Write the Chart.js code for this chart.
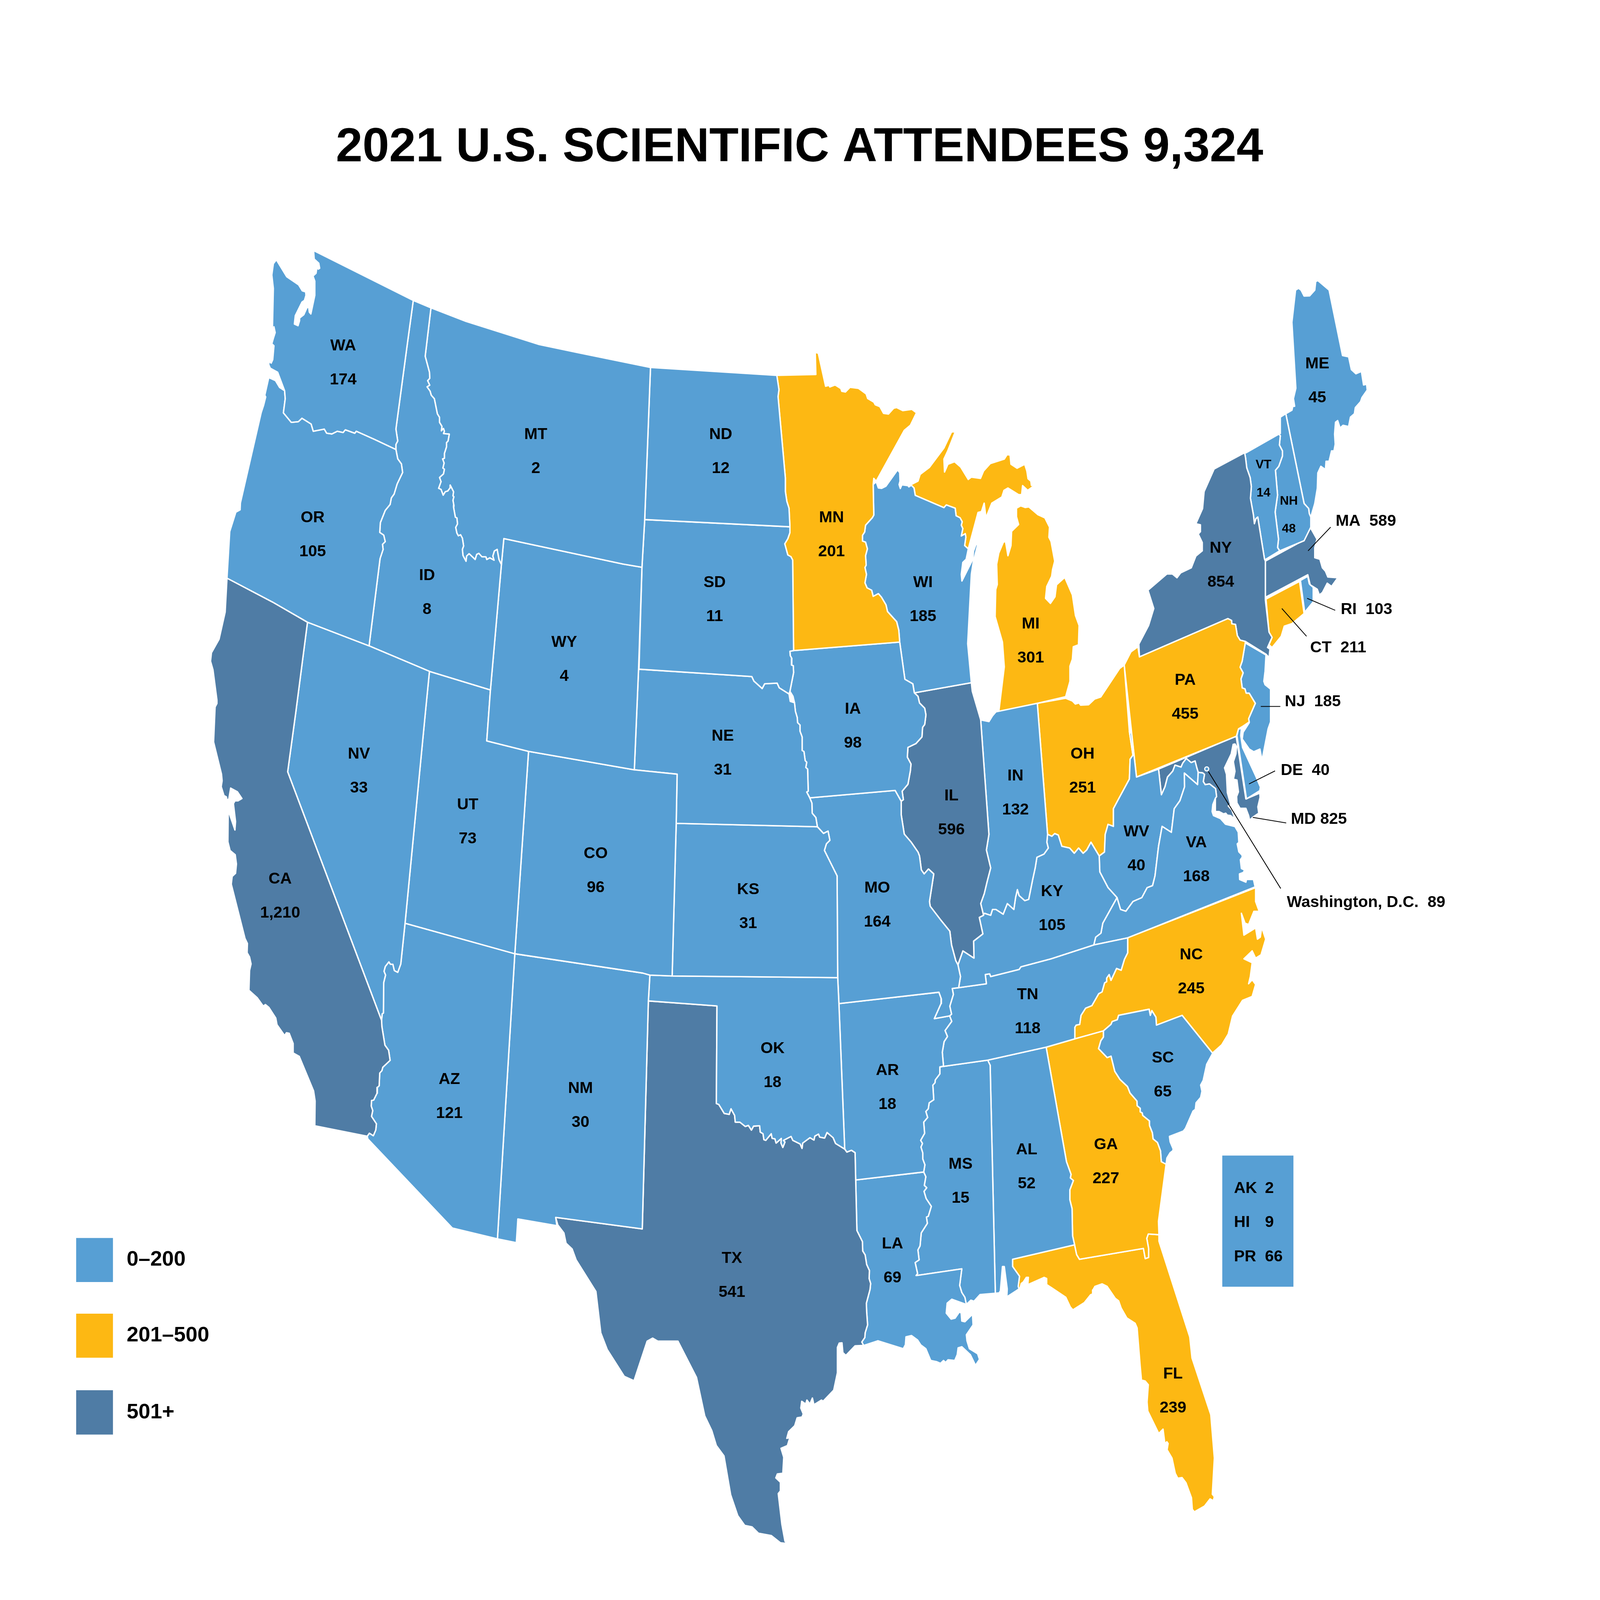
<!DOCTYPE html>
<html>
<head>
<meta charset="utf-8">
<title>2021 U.S. Scientific Attendees</title>
<script src="https://cdn.jsdelivr.net/npm/chart.js@4/dist/chart.umd.js"></script>
<style>
  html, body { margin: 0; padding: 0; background: #fff; overflow: hidden; }
  #wrap { width: 100vw; height: 100vh; position: relative; }
</style>
</head>
<body>
<div id="wrap"><canvas id="map"></canvas></div>
<script>
// attendee counts
const stateCodes = ['WA','OR','CA','NV','ID','MT','WY','UT','CO','AZ','NM','ND','SD','NE','KS','OK','TX','MN','IA','MO','AR','LA','WI','IL','IN','MI','KY','TN','MS','AL','GA','FL','SC','NC','VA','WV','OH','PA','NY','VT','NH','ME'];
const stateValues = ['174','105','1,210','33','8','2','4','73','96','121','30','12','11','31','31','18','541','201','98','164','18','69','185','596','132','301','105','118','15','52','227','239','65','245','168','40','251','455','854','14','48','45'];
const calloutLabels = ['MA  589','RI  103','CT  211','NJ  185','DE  40','MD 825','Washington, D.C.  89'];
const calloutValues = { MA: 589, RI: 103, CT: 211, NJ: 185, DE: 40, MD: 825, DC: 89 };
const insetCodes = ['AK','HI','PR'];
const insetValues = ['2','9','66'];
const legendLabels = ['0–200','201–500','501+'];
const titleText = '2021 U.S. SCIENTIFIC ATTENDEES 9,324';

// label anchors in map units
const labelX = [334.5,304.5,272.5,350,417,524,552,457,583,439,568,706,700,708,733,757,717,815,836,860,870,875,905,933,996,1011,1032,1008,942,1007,1085,1151,1141,1169,1174,1115,1062,1163,1198,1240,1265,1293];
const labelY = [189,284,484,415,316,238,353,443,470,595,600,238,320,405,490,578,694,284,390,489,590,686,320,438,427,343,491,548,642,634,631,758,583,526,464,458,415,374,301,255,275,199];
const calloutX = [1311,1316,1286,1261,1257,1267,1263];
const calloutY = [286,335,356,386,424,451,497];
const leaderLines = [
  [1306.1,290, 1283.9,303.1],
  [1310.6,336, 1283,329.4],
  [1282.4,350.4, 1258.1,335],
  [1256.6,389.2, 1237.4,389.2],
  [1251.4,424.9, 1225.8,432.1],
  [1262.4,453.7, 1229.5,450.6],
  [1257,490, 1185.8,425.2]
];

// shared borders, flat x,y lists
const waOr = [270,204.2, 276.9,214.5, 277.5,218.9, 275.7,226.7, 283.5,232, 290.4,231.6, 294,229.7, 303,232.9, 305.1,236.9, 315.9,235.7, 318.3,238, 323.4,238.4, 328.8,236.9, 334.5,237.6, 336.6,236.1, 345.9,238, 347.4,236.9, 365.4,241.4, 386.4,247];
const waId = [403.5,164.5, 397.8,187.9, 386.4,235.7, 388.2,242.3, 386.4,244.2, 386.4,247];
const orId = [386.4,247, 388.2,252.2, 391.8,255, 393,259.7, 387.6,266.1, 384.6,271.7, 381.9,273.8, 380.7,277.4, 375.9,280.7, 371.1,287.5, 370.5,292.9, 374.4,294.4, 375.9,298, 373.2,299.5, 373.8,302.3, 370.8,307.4, 360,355.7];
const idMt = [420.9,168.6, 415.2,195.4, 419.4,204.2, 419.7,207.6, 417.6,208.9, 419.7,211.4, 417,212.3, 420,214.7, 421.2,217, 424.2,218.9, 427.2,227.3, 429.3,229.2, 429.3,232, 431.7,234.2, 431.1,236.7, 433.2,235.4, 434.1,236.9, 433.2,238.2, 438.9,238.5, 437.7,242.3, 436.2,243.2, 436.2,245.5, 434.1,249.2, 434.1,251.9, 432.3,252.2, 433.8,254.5, 432.6,257.3, 434.1,257.9, 433.2,260.5, 429.3,262.5, 430.8,264.8, 428.4,268.5, 430.8,269.1, 432.9,272.3, 435,270.4, 437.4,270, 439.8,268.2, 439.8,266.7, 443.1,270.4, 442.5,272.7, 443.4,273.2, 442.5,275.1, 443.4,277.9, 443.1,278.9, 444.9,284.5, 446.4,284.9, 447,288.2, 445.2,290.1, 446.4,293.3, 447.9,294.8, 450,294.2, 451.8,296.1, 453,300.4, 451.8,302.3, 452.4,305.7, 455.4,308.9, 456,306, 458.4,304.7, 464.4,307.9, 465.9,305.1, 468,304.5, 471,306.4, 474.9,306.4, 475.8,307.9, 478.8,307, 483,308.3, 481.8,306, 483.3,303.2, 486,302.3, 487.8,307.9, 490.2,310.7];
const nvAz = [395.4,509.2, 391.2,531.7, 388.2,536.4, 384.9,535.4, 383.4,531.9, 381,531.9, 379.5,530.6, 375.9,533.2, 374.7,535.8, 376.2,537.9, 374.4,542, 374.1,558.9, 372.9,559.3, 372.3,563];
const caAz = [372.3,563, 372.6,566.4, 375.6,576.7, 379.2,579.5, 380.7,585.1, 373.5,588.9, 372.6,590.8, 370.5,592.1, 369.9,599.2, 368.1,600.1, 367.8,603.3, 364.5,607.1, 362.4,607.3, 362.1,610.4, 363.6,612.9, 362.4,616.1, 367.2,620.2, 366.6,623.6, 364.2,626.8, 360.3,625.4, 358.2,627.1];
const ndMn = [763.3,213.9, 762.4,217.7, 769.6,262.7, 769.6,270.2, 771.1,275.8, 773.2,279.5, 774.1,289.8];
const sdMn = [774.1,293, 772,296.4, 769,299.2, 772,305.4, 775,306.3, 776.8,308.2];
const sdIa = [777.7,358.3, 774.1,358.7, 774.4,361.1, 775.9,362.6, 775.6,366.3, 777.4,366.7, 777.7,370.5, 774.1,380.8];
const sdNe = [625.6,368.6, 736.6,372.7, 738.7,375.2, 746.8,379.3, 749.2,376.7, 761.5,376.3, 763.6,378.9, 773.2,382.3];
const iaNe = [778.6,387.2, 779.5,392, 781.3,395.4, 781.6,398.2, 784,399.5, 784,402.9, 786.1,406.1, 786.1,413.6, 787.9,414.2, 789.1,419.2, 790.6,420.1, 789.7,423, 791.5,423.9, 792.1,436.1, 790.6,436.6, 793.6,439.8];
const neMo = [795.7,442.7, 796,448.3, 799.6,450.7, 801.1,455.8];
const mnWi = [856,266.4, 856.6,283.3, 855.1,284.8, 848.5,288.9, 847.6,292.7, 845.5,294.5, 845.5,297.7, 848.5,298.3, 850.3,302, 848.5,305.8, 849.1,311, 847.9,312.3, 849.4,316.1, 847.9,320.8, 850,323.6, 854.5,324.9, 856,328.3, 861.1,326.8, 864.1,328.7, 868.6,333, 870.1,336.7, 879.1,342.3, 881.2,347, 882.1,353.6];
const wiIa = [882.1,353.6, 887.2,374.2, 895,376.7, 896.5,381.7];
const iaIl = [896.5,381.7, 900.1,383.6, 901.6,387.3, 906.7,390.2, 907.9,393.9, 906.7,399.2, 904.6,400.8, 904,406.1, 898,409.8, 890.2,411.9, 889.6,417.3, 893.2,421.1, 892.6,424.8, 890.2,432.3, 884.5,436.1, 885.7,440.8, 883.6,441.7];
const ilMo = [883.6,441.7, 883.6,449.2, 886.6,459.9, 893.2,464.2, 900.1,469.8, 901.6,472, 903.4,479.7, 906.2,481.9, 910.4,479.2, 915.6,481.9, 911.4,497.2, 912.1,499.8, 921.9,507, 931.4,513.6, 933.1,521.2, 937.3,530, 939.4,532.2];
const ilKy = [939.4,532.2, 944.3,524.5, 955.2,528.5, 954.8,519.1, 963.9,515.1, 960.4,506];
const ilIn = [960.4,506, 964.6,504.8, 961.8,498.3, 965.3,492.8, 968.1,486.2, 971.6,478.6, 967.4,468.7, 969.9,460, 961.8,396.7];
const inKy = [1027.6,460, 1026.9,464.4, 1028.3,467.6, 1024.1,470.9, 1017.1,472.7, 1015.4,478.6, 1012.9,485.1, 1009,496, 1005.2,496.7, 999.6,493.9, 997.9,490.6, 996.1,495, 994.4,501.6, 988,498.3, 983.9,504.2, 976.8,501.6, 973.4,501.6, 971.6,504.8, 965.6,503.7, 960.4,506];
const kyTn = [940.1,544.9, 967.4,542.7, 966.3,537.6, 970.6,537.2, 971.6,538.7, 999.6,534.8, 1001.4,533.3, 1031.1,528.9, 1073.1,521.2];
const kyVa = [1073.1,521.2, 1074.9,516.9, 1080.1,514.7, 1081.9,509.2, 1095.9,495];
const kyWv = [1095.9,495, 1087.1,489.5, 1079,480.8, 1078.4,472];
const ohKy = [1078.4,472, 1070.3,464.4, 1066.1,468.7, 1062.6,470.5, 1058.1,467.6, 1053.9,470.5, 1049.3,467.6, 1041.6,466.6, 1038.1,460.4, 1034.6,459.6, 1031.8,461.1, 1027.6,460];
const ohWv = [1078.4,472, 1083.6,469.8, 1084.3,460, 1087.1,454.5, 1092.4,455.6, 1092.4,445.8, 1097.6,440.3, 1108.1,429.4, 1108.8,418.4, 1111.6,416.2, 1108.1,403.1];
const paNy = [1205,340.6, 1208.6,341.6, 1208.9,343.5, 1212.5,343.8, 1214.3,350, 1217,352.5, 1222.1,353.2];
const paNj = [1222.1,354.1, 1219.1,364.1, 1217,367.5, 1220,370.6, 1217.9,374, 1219.1,379, 1221.8,379.5, 1223,381.9, 1226,381.9, 1232,387.5, 1225.4,396];
const paDe = [1225.4,396, 1226,397.8, 1220,400.1, 1215.5,401.6, 1213.4,405.7];
const nyVt = [1241,307.5, 1234.4,284.4, 1232.6,285.3, 1231.1,288.1, 1230.2,283.4, 1227.2,274, 1228.1,267.5, 1226.9,262.5, 1223.6,257.2, 1222.4,251.6, 1221.5,248.8];
const vtNh = [1255.1,238.5, 1256.6,239.4, 1255.7,244.5, 1258.7,247.8, 1258.7,250.6, 1255.1,256.3, 1251.8,258.5, 1253.9,272.2, 1251.5,281.6, 1254.8,296.6, 1253.9,301.3, 1256,303.1];
const neME = [1262,227.2, 1280,276.9, 1284.5,279.7, 1285.1,282.5, 1286.6,284.4];
const mdWv = [1136.8,423.9, 1139.6,438.1, 1143.1,433.7, 1145.6,428.3, 1150.8,425, 1153,421.7, 1158.9,422.8, 1160.6,420.6, 1164.1,418, 1168.9,420.3, 1172.7,419.4, 1174.5,423.3, 1175.8,425.7];
const vaWv = [1095.9,495, 1099.4,501.6, 1104.6,502.6, 1111.6,497.2, 1120.4,495, 1125.6,489.5, 1130.9,488.4, 1133.3,483, 1136.8,466.6, 1140.3,455.6, 1149.4,458.9, 1152.2,445.8, 1157.8,441.4, 1162.4,433.7, 1162.2,426.1, 1175.2,432.5, 1175.8,425.7];
const redRiver = [701.7,609, 704.1,609.5, 709.5,614.5, 714.3,615, 716.1,611.9, 719.7,615.6, 720.3,619.3, 724.8,619.3, 730.2,621.7, 733.2,621.1, 736.2,623.7, 738.3,621.5, 744.3,621.3, 744.9,624.8, 747.6,625.7, 748.5,629, 750.3,629.4, 755.7,625.7, 756.6,628.3, 759.3,628.5, 760.5,630.9, 765.6,628.3, 765.3,630.9, 767.1,633.3, 769.2,630.3, 767.7,629.4, 775.2,627.2, 777,629.4, 784.2,631.4, 786,633.8, 786.6,630.9, 790.2,629.4, 793.8,627.9, 797.7,629.2, 798.6,627, 802.2,625.9, 803.4,627.6, 808.2,628.1, 810.6,625, 816.6,627.9, 819,631.1, 828,634.2];
const txLa = [838.8,651.3, 840,679.3, 845.4,685.4, 845.7,690.6, 848.1,692.8, 849.6,698.1, 852.3,701.4, 852,705.9, 853.5,708.6, 852.9,711.9, 849.3,719.5, 849.6,724.3, 850.5,731.5, 848.1,735.9, 847.8,738.5, 844.8,741, 846.6,742.9];
const moBoot = [920.7,547.4, 923.1,551.1, 922.8,553.7, 916.2,562, 931.2,560.5];
const tnRiver = [933.8,545.3, 934.9,548.6, 931.4,555.1, 933.1,559.5, 931.2,560.5];
const arTn = [931.2,560.5, 933.3,563.5, 926.7,568.6, 929.1,571.9, 925.8,574.7, 924,580.6, 925.2,588.3, 921.6,588.7];
const arMs = [921.6,588.7, 921.6,592.6, 917.1,595.9, 916.8,597.5, 914.7,598.8, 915.6,606.9, 911.1,608.6, 910.2,611.9, 907.8,613.4, 909.6,616.7, 905.7,619.3, 906.6,625.5, 902.7,629.4, 904.5,631.1, 903,633.1, 904.8,636.4, 904.8,639.7, 906.9,642.9, 905.7,646.9];
const laMs = [905.7,646.9, 907.8,649.5, 906.3,654.3, 908.7,655.6, 906,657.6, 908.1,661.6, 913.2,665.9, 910.2,671.4, 908.4,671.8, 909.3,675.3, 903.3,680.6, 902.1,687.8, 900,690, 901.2,695.5, 897.3,697, 899.7,703.1, 898.2,704.2, 943.2,700.5, 941.1,709.7, 943.2,713.6, 946.2,716.2, 947.7,720.2];
const alGa = [1026.2,577.8, 1046.2,641.2, 1050.7,648.2, 1050,650.2, 1053,651.6, 1049.5,656.8, 1049.5,662.2, 1051.7,667.2, 1052.2,682.2, 1054.2,687.2];
const gaSc = [1082.5,568.8, 1082.5,572.2, 1080,574.2, 1077.7,578.6, 1086.2,583.6, 1090,582.8, 1093.7,591.2, 1098.7,595.6, 1106.2,599.6, 1108.7,603.2, 1115.5,607.6, 1115.7,610.2, 1118.7,611.6, 1118.7,613.6, 1120.7,614.2, 1121.2,615.6, 1127.7,618.6, 1127.9,621.2, 1130.7,625.2, 1131.4,628.6, 1135.7,630.6, 1138.7,635.2, 1139.5,641.2, 1144.2,642.6];
const gaFl = [1137.2,681.6, 1126.7,681.2, 1125.2,683.6, 1127,689.2, 1127,694.2, 1123.7,694.8, 1121.9,689.2, 1059,695.2, 1056.2,692.6, 1054.2,687.2];
const scNc = [1082.5,568.8, 1090,565.2, 1091.2,563.6, 1096.2,562.6, 1097.5,560.2, 1127.5,556.8, 1128.7,560.2, 1130.2,557.6, 1134.2,561.2, 1134.7,565.6, 1160,560.2, 1190,581.2];
const ncTn = [1054.4,573.2, 1054.4,566.8, 1055.7,565.6, 1059.2,565.2, 1060.5,560.2, 1065,556.2, 1071.2,554.8, 1077.9,548.2, 1081.2,547.2, 1083.7,542.2, 1085.5,541.6, 1085.7,539.6, 1088.2,537.6, 1090,540.8, 1095.5,534.2, 1100,535.2, 1103.2,529.2, 1106.4,525.6, 1106.4,517.3];
const wiMi = [893.5,266.8, 896.2,268.3, 897.4,272.4, 925.6,279.2, 928,277.7, 936.7,279.5, 937.6,283.7, 941.5,284.8, 943.6,287, 942.7,288.9, 944.2,290.8, 942.7,294.9, 946.6,293.6, 947.2,295.5, 946,300.2, 949.6,302];

// coasts and outer edges
const waCoast = [305.4,136.9, 306,141.6, 310.5,143.9, 311.4,146.7, 310,147.2, 308.7,146.1, 307.8,149.5, 304.8,151, 306.6,153.8, 306.6,161.7, 302.7,172, 301.2,171, 300.6,168.2, 298.8,168.6, 295.8,172.4, 291.3,174.4, 291.6,175.7, 290.1,178.5, 286.5,177.6, 287.4,172.9, 294,165.4, 296.4,164.5, 297.9,161.7, 297.6,159.8, 294.3,159.2, 290.7,155.9, 279,151.4, 273.9,146.7, 268.8,142, 265.8,144.2, 264.3,150.4, 265.8,157.9, 264.9,180.4, 266.4,179.1, 267.6,182.3, 265.8,185.5, 264.3,188.5, 266.4,189.6, 265.2,197.3, 263.7,199.2, 261.6,198.2, 261.3,200.1, 262.8,202];
const orCoast = [261.3,207.2, 257.4,217, 258.3,217.9, 256.2,222.6, 253.8,226.7, 233.4,276.6, 233.1,280.4, 228.9,281.7, 222.9,292.4, 220.2,318.2];
const caCoast = [220.2,318.2, 218.4,337, 212.4,352, 204.9,359.5, 204,364.2, 206.4,368.9, 210.3,385.7, 210.3,387.6, 208.5,389.5, 207,408.9, 214.8,426.7, 215.4,430.4, 214.5,433.6, 217.2,438.5, 219.6,439.3, 220.2,441.1, 222,440.4, 223.8,434.4, 230.4,436.4, 234.9,440.2, 231,441.5, 228,441.5, 226.5,443, 228.6,452.9, 228,457.6, 222.9,449.2, 221.4,446.8, 221.1,464.2, 223.2,468.9, 228.3,471.3, 229.5,476.4, 228.6,481.6, 225.3,483.3, 224.4,487.6, 237.9,517.6, 240.3,520.4, 240,525.5, 242.4,527.9, 243.9,531.7, 242.4,535.4, 241.8,546.3, 249.9,550.4, 255.9,555.1, 258,554.2, 261.3,555.7, 268.2,561.7, 269.4,565.4, 276.9,571.4, 278.7,569.8, 281.4,570.1, 285.3,575.8, 285.3,581, 291.3,582.9, 305.4,602, 306.9,607.6, 306.6,621.3, 358.2,627.1];
const txCoast = [838.2,743.1, 829.2,748.4, 826.2,746.9, 825.3,741.4, 822.6,741.6, 820.8,744, 820.8,758, 817.2,767.6, 806.7,773.8, 805.2,773.1, 797.7,775.7, 796.2,772, 793.8,775.3, 790.8,773.1, 789.6,775.3, 785.7,773.8, 784.8,777.5, 787.2,780.8, 786,782.5, 781.2,782.9, 778.8,787.3, 772.8,790.6, 771,794.3, 774,793.9, 771.6,798.3, 765.3,799.8, 768,804.8, 767.1,813.6, 761.7,814, 760.2,816.2, 764.7,818.6, 764.7,823.4, 762.6,824.9, 766.2,842, 769.2,851.2, 771,852.5, 764.7,852.1, 755.7,848.1, 743.1,846.8, 736.8,843.3, 729.6,842.5, 722.7,837, 715.8,825.6, 709.2,804, 701.7,798.3, 697.2,790, 690.3,781.9, 682.2,760.6, 663.9,740.5, 644.1,740.5, 639,738.8, 633.6,740.5, 620.7,762.4, 611.1,760, 594.3,745.1, 588,735.9, 583.2,713, 563.7,695.5, 559.8,689.5, 553.8,686.3, 551.7,680.6, 545.7,676.2, 543.6,672];
const laCoast = [933.3,717.3, 928.8,719.5, 927.9,725, 932.7,728.3, 936.6,727.8, 940.8,724.3, 942.6,725, 943.2,729.4, 946.2,729.8, 953.7,725.6, 954.3,731.5, 947.7,737, 948.3,740.3, 950.7,744.7, 958.8,747.5, 960.6,750.6, 956.7,753.9, 951.6,748, 943.2,743.6, 939.6,744.2, 938.7,748, 936.3,751.2, 929.7,750.8, 927.3,752.3, 925.2,751.2, 922.2,752.8, 918.6,751.9, 912.6,751.2, 907.8,744.7, 902.7,742.5, 899.7,739.9, 893.7,737.4, 888.3,738.1, 887.7,742.5, 885.6,744.7, 860.7,740.3, 846.6,742.9];
const flCoast = [1137.2,685.2, 1167.5,738.2, 1169.7,749.8, 1188.2,781.2, 1191.7,805.2, 1189.7,825.2, 1191.7,826.6, 1190.7,828.8, 1187.5,827.8, 1182,831.8, 1172,835, 1170,833.6, 1169.2,827.2, 1163.7,818.8, 1159.9,816, 1155.7,816.4, 1153.2,813.6, 1150,805.2, 1145.2,800.6, 1146.2,797.2, 1145,796.2, 1143,797.2, 1141.2,789.2, 1137,791.6, 1126.2,779.2, 1125.5,774.2, 1126.7,764.6, 1123.7,762.6, 1121.2,762.2, 1120.7,766.6, 1118.7,754.2, 1115.7,733.2, 1113.7,730.6, 1105.5,727.6, 1100,722.2, 1097.5,718.2, 1094.2,716.8, 1086.2,710.2, 1081.2,708.8, 1074.2,710.2, 1072.2,712.2, 1071.9,714.4, 1070,714.8, 1063.7,719.2, 1052.5,723.2, 1050,721.6, 1045.5,716.2, 1031.2,710.8, 1026.7,709.2, 1026.7,705.8, 1024.2,705.2, 1008.2,709.2, 1008.7,705.2, 1006.7,705.2, 1003.7,707.8, 1001.7,708.6, 1000.5,711.2, 999.5,711.6];
const scCoast = [1184.2,587.2, 1180.7,596.2, 1178.2,598.8, 1179.5,602.2, 1178.2,605.6, 1173.7,608.6, 1173,612.2, 1170.7,613.2, 1163.2,622.8, 1161.2,624.2, 1147.5,627.2, 1148.2,630.2, 1151.2,634.2, 1150.7,635.2, 1148.2,636.2, 1145,639.2, 1144.2,642.6];
const ncCoast = [1232.3,497.2, 1235.8,502.6, 1230.6,502.6, 1225.4,509.9, 1221.9,509.2, 1218.3,503.7, 1220.8,515.8, 1232.3,511.8, 1234.1,518, 1236.9,516.9, 1238.3,511.4, 1242.2,518, 1237.6,526.7, 1232.3,528.5, 1228.9,524.5, 1220.8,528.9, 1228.9,531.1, 1227.1,538.7, 1225.4,542.7, 1228.9,540.5, 1232.3,543.1, 1228.9,549.7, 1219.4,551.9, 1209.6,560.6, 1205.4,570.5, 1199.1,576.4, 1190.4,580.8];
const vaCoast = [1190.8,449.6, 1197.7,451.3, 1202.7,454.4, 1212,455.7, 1215.2,458.8, 1215.8,464.5, 1214.2,465.3, 1215.8,469.7, 1218.9,471.5, 1219.2,472.6, 1217.3,474.1, 1218.3,478.9, 1221.4,479.8, 1220.2,481.1, 1216.4,481.9, 1216.6,485, 1222.7,486.5, 1223.3,485, 1230.2,485, 1231.8,489.1];
const mdPotomac = [1175.8,425.7, 1180.2,426, 1182,426.8, 1180.8,430.8, 1182.7,432.5, 1187,432.1, 1190.8,433.8, 1192.9,434.7, 1193.9,439.1, 1192.7,440];
const mdBay = [1213.3,406.3, 1222.7,440.4, 1236.4,437.2, 1236.7,439.5, 1234.5,444.8, 1235.4,448.3, 1229.5,450.5, 1226.4,452.2, 1225.4,449.6, 1222.7,445.6, 1217,445.6, 1213.9,442.6, 1213.6,439.1, 1215.4,436.5, 1213.9,429.9, 1210.4,429.5, 1212,425.1, 1210.4,419.8, 1212.9,415.5, 1213.5,411.5, 1212,410, 1210.2,410.2, 1208.3,415.5, 1201.7,423.2, 1203.6,426.8, 1204.5,436.9, 1207.7,443.5, 1205.4,444.3, 1208.9,446.5, 1211.8,451.5, 1207.7,449.6, 1204.5,449.4, 1202.9,448.3, 1200.8,448.7, 1196.4,447.4, 1192.7,447.4];
const nyNorth = [1191.5,257.8, 1181.6,270.3, 1180.1,279.7, 1173.5,288.1, 1178,288.7, 1178,292.5, 1175.9,293.8, 1179.8,298.5, 1179.8,303.1, 1173.5,306, 1169,312.5, 1158.5,315.3, 1154.9,318, 1150.4,315.9, 1145,315.9, 1126.4,324.9, 1132.1,335, 1127,344.4, 1117.4,354.7];
const meCoast = [1268,225.3, 1268.9,223.1, 1270.7,223.1, 1269.5,218.8, 1271.9,213.1, 1268,176.6, 1271.6,158.8, 1274.6,157.8, 1277,158.8, 1280,162.1, 1285.4,162, 1290.5,158.8, 1291.4,154.1, 1293.5,153.5, 1304.6,158.8, 1317.8,195, 1323.8,195.7, 1326.5,202.8, 1331,205.1, 1336.4,203.8, 1338.5,211.3, 1341.5,210.9, 1342.1,214.1, 1337,218.2, 1335.5,220.6, 1330.4,223.8, 1329.5,227.2, 1325.6,229.1, 1323.8,234.3, 1318.4,233.6, 1315.4,235.1, 1313,231, 1310.9,231.9, 1310,238.5, 1310.6,244.1, 1309.4,247.8, 1307,247.8, 1304.6,253.5, 1301.6,253.5, 1301,258.1, 1296.5,256.3, 1293.5,260, 1293,268.5, 1290.5,276.9, 1286.6,284.4];
const maCape = [1292.6,296.6, 1290.5,301.3, 1290.5,306.9, 1295.6,307.8, 1298,312.5, 1301,314.4, 1303.4,317.6, 1312.4,318, 1315.4,314.4, 1313.6,309.7, 1316,314.4, 1313,318.1, 1307,322.8, 1302.8,321, 1298,326.2, 1295,327.5, 1292.9,324.3, 1286,321.9, 1283.6,316.3];
const miLower = [1001.2,278.2, 1005.5,279.1, 1009.1,278.8, 1018.1,283.1, 1025,284.9, 1029.5,290, 1028.9,295.6, 1031,297.9, 1034.6,308.8, 1032.5,313.5, 1031.6,317.2, 1026.8,322.8, 1025.6,329.4, 1030.4,332.2, 1034.9,328.5, 1036.4,321.9, 1044.5,317.8, 1052,327.5, 1055,338.8, 1058.6,344.4, 1058,355.1, 1052.9,356.2, 1052,363.1, 1049.6,366.9, 1049.6,375.3, 1045.4,383.8, 1017.5,387.5, 979.6,392.2, 985,367.3, 983.2,353.6, 976,339.5, 976.6,324.5, 978.1,321.7, 977.5,310.5, 979.6,304.3, 984.1,298.3, 986.2,297.9, 988.6,305.8, 991.6,300.2, 992.2,292.3, 999.1,288.5, 997,284.2, 997,279.5];
const miUpper = [893.5,266.4, 900.1,264.5, 902.2,260.8, 911.2,257, 925.6,246.2, 933.1,237.3, 936.7,237.3, 929.2,248, 925.6,252.3, 926.2,259.5, 929.5,255.2, 936.1,253.8, 942.1,256.7, 949.6,263.6, 952.6,262.3, 961.6,263, 964.6,258.9, 971.2,254.8, 985,252.3, 987.7,249.9, 990.7,250.1, 991.6,255.2, 997.6,257.4, 1005.1,255.2, 1007.2,258.9, 1008.4,263.2, 1011.1,264.5, 1011.7,266.9, 1014.7,266.9, 1008.1,269.6, 1003,267, 1002.1,272, 999.1,272, 988.6,268.3, 984.7,269.6, 982.6,273.3, 972.7,276.7, 967,284.8, 965.2,276.7, 962.5,281.4, 959.2,281.8, 949.6,302];
const mnNorth = [761.2,206, 799.6,205.5, 799,193.3, 802,193.7, 809.2,212, 812.5,211.5, 813.4,212.4, 818.5,211.3, 824.2,213.3, 825.1,214.8, 828.7,215.2, 833.2,212.6, 841.6,213.2, 849.1,216.3, 850.6,218.8, 856.6,220.8, 858.1,222.3, 862.6,223.3, 866.2,227, 871,227.4, 876.1,224.2, 879.1,223.8, 885.1,225.5, 894.1,224.8, 898.6,226.7, 892.6,233.6, 886.6,236.4, 859,264.5, 856.6,263];
const wiNorth = [859,264.9, 861.1,268.3, 864.4,268.5, 868.6,267.3, 880,258.3, 882.1,259.8, 882.4,264.5, 881.5,266.4, 882.7,268.6, 884.2,266.6, 890.2,267, 891.1,267.7, 893.5,266.8];
const wiEast = [947.5,307.7, 944.2,309.5, 942.7,316.1, 943.3,319.8, 954.1,307.7, 954.7,303.3, 958,298.3, 958.6,300.2, 954.4,309.5, 952.6,316.1, 949,354.5, 952.6,376.1];

const rev = (chain) => {
  const out = [];
  for (let i = chain.length - 2; i >= 0; i -= 2) out.push(chain[i], chain[i + 1]);
  return out;
};

// state outlines assembled from the borders above
const outlines = {
  WA: [...waCoast, ...waOr, ...rev(waId)],
  OR: [261.3,207.2, 267.9,208.9, 272,212.7, ...waOr.slice(2), ...orId, 299.4,342.6, 264.9,331.4, ...rev(orCoast)],
  CA: [220.2,318.2, 264.9,331.4, 299.4,342.6, 288,392, 279.9,425.4, 358.2,542, ...caAz, ...rev(caCoast)],
  NV: [299.4,342.6, 360,355.7, 419.4,369.8, 415.5,392, ...nvAz, 358.2,542, 279.9,425.4, 288,392],
  ID: [403.5,164.5, ...idMt, 479.4,380.1, 419.4,369.8, ...rev(orId), ...rev(waId)],
  MT: [420.9,168.6, 455.4,176.1, 527.4,188.9, 566.4,193.5, 636.9,201.6, 631.2,285.8, 628.5,312.2, 609.9,310.4, 492.6,296.3, ...rev(idMt)],
  WY: [492.6,296.3, 609.9,310.4, 628.5,312.2, 625.2,367.9, 621,424.3, 516.9,414.1, 475.8,408.3, 479.4,380.1, 490.2,310.7],
  UT: [419.4,369.8, 479.4,380.1, 475.8,408.3, 516.9,414.1, 503.4,526.1, 395.4,509.2, 415.5,392],
  CO: [516.9,414.1, 621,424.3, 663.1,426.7, 662.2,453.9, 658.2,538.4, 636.3,537.9, 629.4,536.8, 503.4,526.1],
  AZ: [395.4,509.2, 503.4,526.1, 486.3,683.9, 441.9,677.9, 358.8,628.6, ...rev(caAz), ...rev(nvAz)],
  NM: [503.4,526.1, 629.4,536.8, 636.3,537.9, 634.8,552.2, 628.8,678.4, 543.6,672, 544.8,676.6, 506.4,672.9, 504.9,686, 486.3,683.9],
  ND: [636.9,201.6, 761.2,206, ...ndMn, 631.2,285.8],
  SD: [631.2,285.8, 774.1,289.8, ...sdMn, ...sdIa, ...rev(sdNe), 628.5,312.2],
  NE: [...sdNe, 774.4,386.4, ...iaNe, ...neMo, 662.2,453.9, 663.1,426.7, 621,424.3, 625.2,367.9],
  KS: [662.2,453.9, 801.1,455.8, 807.1,459.5, 811.6,458.2, 813.4,463.3, 810,465.2, 808,468.9, 820.5,483, 821.1,539.3, 658.2,538.4],
  OK: [636.3,537.9, 658.2,538.4, 821.1,539.3, 822.3,553.7, ...rev(redRiver), 702.3,555, 634.8,552.2],
  TX: [634.8,552.2, 702.3,555, ...redRiver, 830.1,635.9, 834.6,634.9, 838.2,636.2, ...txLa, ...txCoast, 628.8,678.4],
  MN: [...mnNorth, ...mnWi, 777.7,358.3, 776.8,308.2, ...rev(sdMn), 774.1,289.8, ...rev(ndMn)],
  IA: [777.7,358.3, ...wiIa, ...iaIl, 877.6,435.7, ...rev(iaNe), 777.1,383.6, ...rev(sdIa)],
  MO: [793.6,439.8, 877.6,435.7, ...ilMo, 941.9,538.7, 940.1,544.9, ...tnRiver, 916.2,562, 922.8,553.7, 923.1,551.1, 920.7,547.4, 822.3,553.7, 821.1,539.3, 820.5,483, 808,468.9, 810,465.2, 813.4,463.3, 811.6,458.2, 807.1,459.5, ...rev(neMo)],
  AR: [822.3,553.7, ...moBoot, ...arTn, ...arMs, 838.8,651.3, 838.2,636.2, 834.6,634.9, 830.1,635.9, 828,634.2],
  LA: [838.8,651.3, ...laMs, ...laCoast, ...rev(txLa)],
  WI: [...wiNorth, ...wiMi, ...wiEast, ...rev(wiIa), ...rev(mnWi)],
  IL: [896.5,381.7, 952.6,376.1, 953.5,380.8, 961.8,396.7, ...rev(ilIn), ...rev(ilKy), ...rev(ilMo), ...rev(iaIl)],
  IN: [961.8,396.7, 969.9,397.6, 973.4,394.4, 976.8,392.2, 1017.5,387.5, 1027.6,460, ...inKy, ...ilIn.slice(2)],
  MI_L: miLower,
  MI_U: [...miUpper, ...rev(wiMi)],
  KY: [...rev(ilKy), 941.9,538.7, ...kyTn, ...kyVa, ...kyWv, ...ohKy, ...inKy],
  TN: [...tnRiver, ...arTn, 968.7,585, 1026.2,577.8, ...ncTn, ...rev(kyTn)],
  MS: [921.6,588.7, 968.7,585, 971.1,587.8, 976.2,714, 961.2,714.7, 955.2,718.4, 952.2,717.8, ...rev(laMs), ...rev(arMs)],
  AL: [968.7,585, ...alGa, 993.2,695.2, 993.2,699.2, 1000,704.6, 998.7,710.2, 999.5,711.6, 987.5,716, 987.9,711.6, 985,699.2, 983.2,699.2, 981.2,712.6, 980,713.8, 976.2,714, 971.1,587.8],
  GA: [1026.2,577.8, 1054.4,573.2, ...gaSc, 1136.7,674.2, ...gaFl, ...rev(alGa)],
  FL: [...rev(gaFl), ...flCoast, 998.7,710.2, 1000,704.6, 993.2,699.2, 993.2,695.2],
  SC: [...scNc, ...scCoast, ...rev(gaSc)],
  NC: [1106.4,517.3, 1232.3,489.5, ...ncCoast, ...rev(scNc), ...ncTn],
  VA: [...kyVa, ...vaWv, ...mdPotomac, 1190.2,443.5, 1189.5,447.4, ...vaCoast, 1106.4,517.3],
  WV: [1110.2,404.2, 1115.1,428.3, ...mdWv, ...rev(vaWv), ...kyWv, ...ohWv],
  OH: [1017.5,387.5, 1045.4,384.7, 1052,386.2, 1055,387.9, 1058.6,387.3, 1060.1,388.5, 1067.9,388.3, 1073.9,385.1, 1079.9,384, 1098.5,368.2, 1103,366.3, 1108.1,403.1, ...rev(ohWv), ...ohKy],
  PA: [1103,366.3, 1109.6,359, 1116.5,356.2, 1118,361.8, ...paNy, ...paNj, ...paDe, 1115.1,428.3],
  NY: [1118,361.8, ...paNy, 1242.5,360.3, 1245.5,362.2, 1246.4,357.5, 1244,356.6, 1247,352.8, 1248.5,351, 1245.5,348.1, 1241.9,330.3, 1241.9,308.8, ...nyVt, ...nyNorth],
  VT: [...nyVt, 1223,248.8, ...vtNh, 1241,308.2],
  NH: [1256.6,238.4, 1256.6,229.1, 1262,227.2, ...neME, 1286.6,290, 1280,297.5, ...rev(vtNh)],
  ME: [1262,227.2, ...meCoast, ...rev(neME)],
  MA: [1241.9,308.8, 1280,297.1, 1286,290, ...maCape, 1241.9,328.8],
  RI: [1276.4,319.5, 1283.6,317.2, 1285.1,321.3, 1289,323.4, 1289,331.3, 1280.6,337.1],
  CT: [1242.5,329.8, 1275.5,320, 1280,337.8, 1268,343.4, 1260.5,344.8, 1257.5,350.4, 1248.5,356.6, 1245.5,355.1, 1248.5,351, 1245.5,348.1],
  NJ: [...paNj.slice(0, 2), 1242.5,360.7, 1241.6,369.7, 1240.4,375.3, 1241.6,377.2, 1247,379.6, 1247,397.8, 1244.6,401.6, 1238.6,419, 1236.5,412.8, 1230.5,414.3, 1226,412.8, 1219.1,407.2, 1220,403.5, 1226,398.2, ...rev(paNj)],
  DE: [1213.9,405.4, 1215.2,401.9, 1218.3,401.3, 1217.7,405.4, 1219.5,412, 1232.7,428.1, 1237,433.8, 1236.4,435.8, 1223.3,440.4],
  MD: [1136.8,423.9, 1213.3,405.6, ...mdBay, 1192.7,440, ...rev(mdPotomac).slice(2), ...rev(mdWv)]
};

const dcPoint = [1184.2, 423.8];
const insetBox = [1199.5, 637.8, 1269.5, 710.4];
const legendBoxes = [[71.8,683.4,108,707.8],[71.8,725.3,108,749.7],[71.8,767.7,108,792.2]];
const legendTextY = [694.5,736.5,779];
const insetTextY = [655.4,674.2,693.2];

const COLORS = { low: '#579FD4', mid: '#FDB813', high: '#4F7CA5' };

// sizes below are written for an 8000 px wide page and scale with the window
const k = window.innerWidth / 8000;

function colorFor(v) {
  if (v <= 200) return COLORS.low;
  if (v <= 500) return COLORS.mid;
  return COLORS.high;
}

function toPoints(flat) {
  const pts = [];
  for (let i = 0; i < flat.length; i += 2) pts.push({ x: flat[i], y: flat[i + 1] });
  pts.push({ x: flat[0], y: flat[1] });
  return pts;
}

function valueOf(code) {
  const c = code.slice(0, 2);
  if (calloutValues[c] !== undefined) return calloutValues[c];
  return Number(stateValues[stateCodes.indexOf(c)].replace(',', ''));
}

function polygon(flat, color, width) {
  return {
    data: toPoints(flat),
    showLine: true,
    fill: 'shape',
    backgroundColor: color,
    borderColor: '#ffffff',
    borderWidth: width,
    borderJoinStyle: 'round',
    pointRadius: 0,
    pointHoverRadius: 0,
    tension: 0,
    order: 3
  };
}

function rectFlat(b) {
  return [b[0], b[1], b[2], b[1], b[2], b[3], b[0], b[3]];
}

const datasets = [];
Object.keys(outlines).forEach(code => {
  datasets.push(polygon(outlines[code], colorFor(valueOf(code)), 7 * k));
});
datasets.push(polygon(rectFlat(insetBox), COLORS.low, 0));
[COLORS.low, COLORS.mid, COLORS.high].forEach((c, i) => {
  datasets.push(polygon(rectFlat(legendBoxes[i]), c, 0));
});

// Washington, D.C. ring
datasets.push({
  data: [{ x: dcPoint[0], y: dcPoint[1] }],
  showLine: false,
  pointRadius: 10 * k,
  pointHoverRadius: 10 * k,
  pointBackgroundColor: COLORS.low,
  pointBorderColor: '#ffffff',
  pointBorderWidth: 6 * k,
  order: 2
});

// leader lines for the small eastern states
leaderLines.forEach(l => {
  datasets.push({
    data: [{ x: l[0], y: l[1] }, { x: l[2], y: l[3] }],
    showLine: true,
    borderColor: '#000000',
    borderWidth: 4 * k,
    pointRadius: 0,
    pointHoverRadius: 0,
    fill: false,
    order: 1
  });
});

const FONT = '"Liberation Sans", Arial, sans-serif';

const textPlugin = {
  id: 'mapText',
  afterDatasetsDraw(chart) {
    const ctx = chart.ctx;
    const sx = chart.scales.x;
    const sy = chart.scales.y;
    const put = (text, x, y, size, align) => {
      const px = size * k;
      ctx.font = 'bold ' + px + 'px ' + FONT;
      ctx.textAlign = align;
      ctx.textBaseline = 'alphabetic';
      ctx.fillText(text, sx.getPixelForValue(x), sy.getPixelForValue(y) + px * 0.36);
    };
    ctx.save();
    ctx.fillStyle = '#000000';

    put(titleText, 783.5, 78, 240, 'center');

    stateCodes.forEach((code, i) => {
      const small = code === 'VT' || code === 'NH';
      const size = small ? 62 : 80;
      const gap = small ? 15.5 : 18.8;
      put(code, labelX[i], labelY[i], size, 'center');
      put(stateValues[i], labelX[i], labelY[i] + gap, size, 'center');
    });

    calloutLabels.forEach((label, i) => {
      put(label, calloutX[i], calloutY[i], 80, 'left');
    });

    insetCodes.forEach((code, i) => {
      put(code, 1211, insetTextY[i], 80, 'left');
      put(insetValues[i], 1241.5, insetTextY[i], 80, 'left');
    });

    legendLabels.forEach((label, i) => {
      put(label, 121.5, legendTextY[i], 106, 'left');
    });
    ctx.restore();
  }
};

document.addEventListener('DOMContentLoaded', function () {
  const ctx = document.getElementById('map').getContext('2d');
  new Chart(ctx, {
    type: 'scatter',
    data: { datasets: datasets },
    options: {
      responsive: true,
      maintainAspectRatio: false,
      animation: false,
      layout: { padding: 0 },
      events: [],
      scales: {
        x: { type: 'linear', min: 0, max: 1568, display: false },
        y: { type: 'linear', min: 0, max: 882, reverse: true, display: false }
      },
      plugins: {
        legend: { display: false },
        title: { display: false },
        tooltip: { enabled: false }
      }
    },
    plugins: [textPlugin]
  });
});
</script>
</body>
</html>
